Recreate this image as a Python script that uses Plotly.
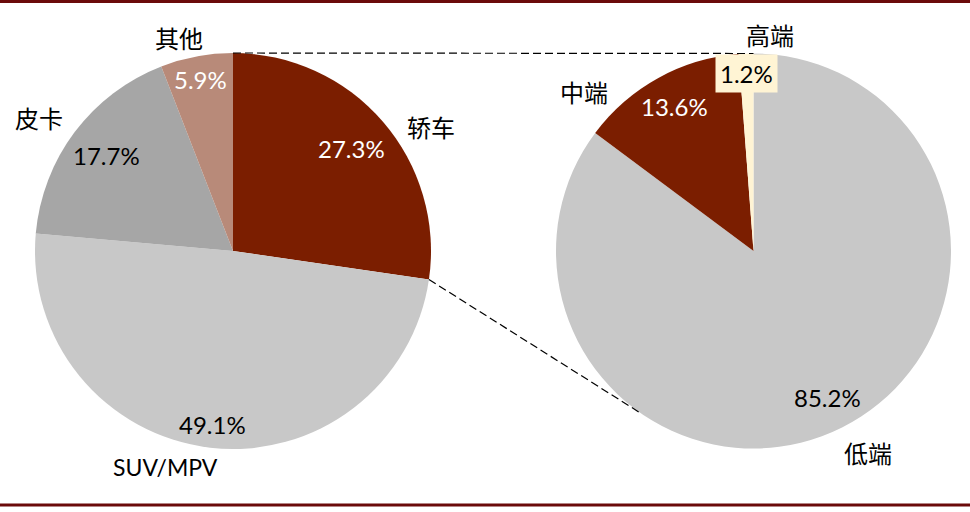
import math
import plotly.graph_objects as go

# left pie: vehicle type share
car_types = ["轿车", "SUV/MPV", "皮卡", "其他"]
car_share = [27.3, 49.1, 17.7, 5.9]

# right pie: sedan price segments
seg_names = ["低端", "中端", "高端"]
seg_share = [85.2, 13.6, 1.2]

W, H = 970, 512

# geometry (pixels)
L_CX, L_CY, L_R = 233, 251, 198
R_CX, R_CY, R_R = 753.5, 251, 197.5

DARK_RED = "#7b1e00"
LIGHT_GRAY = "#c8c8c8"
GRAY = "#a6a6a6"
ROSE = "#b88a79"
CREAM = "#fff4d4"
BORDER = "#6b0a0a"

left_colors = [DARK_RED, LIGHT_GRAY, GRAY, ROSE]
right_colors = [LIGHT_GRAY, DARK_RED, CREAM]

left_text_col = ["white", "black", "black", "white"]
right_text_col = ["black", "white", "black"]
left_rfac = [0.79, 0.88, 0.80, 0.88]
right_rfac = [0.83, 0.835, 0.90]

# name label positions (pixels)
left_name_pos = [(431, 126), (165, 467), (39, 117), (179, 37)]
right_name_pos = [(868, 452), (584, 91), (770, 34)]

NUM_FONT = "Lato, 'Open Sans', sans-serif"
CJK_FONT = "'Noto Sans CJK SC', sans-serif"


def px(x, y):
    return x / W, 1 - y / H


def dom(cx, cy, r):
    x0, y1 = px(cx - r, cy - r)
    x1, y0 = px(cx + r, cy + r)
    return dict(x=[x0, x1], y=[y0, y1])


def edge(cx, cy, r, deg, f=1.0):
    a = math.radians(deg)
    return cx + r * f * math.sin(a), cy - r * f * math.cos(a)


fig = go.Figure()

fig.add_trace(go.Pie(
    labels=car_types, values=car_share, sort=False, direction="clockwise",
    marker=dict(colors=left_colors, line=dict(width=0)),
    textinfo="none", hoverinfo="label+percent",
    domain=dom(L_CX, L_CY, L_R), showlegend=False,
))
fig.add_trace(go.Pie(
    labels=seg_names, values=seg_share, sort=False, direction="clockwise",
    marker=dict(colors=right_colors, line=dict(width=0)),
    textinfo="none", hoverinfo="label+percent",
    domain=dom(R_CX, R_CY, R_R), showlegend=False,
))

annotations = []


def pct_labels(vals, cx, cy, r, rfacs, cols, boxed=None):
    total = sum(vals)
    acc = 0
    for i, v in enumerate(vals):
        mid = (acc + v / 2) / total * 360
        acc += v
        x, y = edge(cx, cy, r, mid, rfacs[i])
        xp, yp = px(x, y)
        a = dict(x=xp, y=yp, xref="paper", yref="paper", text=f"{v:.1f}%",
                 showarrow=False, xanchor="center", yanchor="middle",
                 font=dict(family=NUM_FONT, size=24, color=cols[i]))
        if boxed is not None and i == boxed:
            a.update(bgcolor=CREAM, borderpad=4)
        annotations.append(a)


pct_labels(car_share, L_CX, L_CY, L_R, left_rfac, left_text_col)
pct_labels(seg_share, R_CX, R_CY, R_R, right_rfac, right_text_col, boxed=2)

for name, (x, y) in zip(car_types, left_name_pos):
    xp, yp = px(x, y)
    fam = NUM_FONT if name.isascii() else CJK_FONT
    annotations.append(dict(x=xp, y=yp, xref="paper", yref="paper", text=name,
                            showarrow=False, xanchor="center", yanchor="middle",
                            font=dict(family=fam, size=24 if fam == CJK_FONT else 23,
                                      color="black")))
for name, (x, y) in zip(seg_names, right_name_pos):
    xp, yp = px(x, y)
    annotations.append(dict(x=xp, y=yp, xref="paper", yref="paper", text=name,
                            showarrow=False, xanchor="center", yanchor="middle",
                            font=dict(family=CJK_FONT, size=24, color="black")))

# connector lines
sedan_end = car_share[0] / sum(car_share) * 360
lx0, ly0 = edge(L_CX, L_CY, L_R, 0)
rx0, ry0 = edge(R_CX, R_CY, R_R, 0)
lx1, ly1 = edge(L_CX, L_CY, L_R, sedan_end)
rx1, ry1 = edge(R_CX, R_CY, R_R, 214.5)

shapes = []
for (ax, ay), (bx, by) in [((lx0, ly0), (rx0, ry0)), ((lx1, ly1), (rx1, ry1))]:
    x0, y0 = px(ax, ay)
    x1, y1 = px(bx, by)
    shapes.append(dict(type="line", xref="paper", yref="paper", x0=x0, y0=y0, x1=x1, y1=y1,
                       line=dict(color="black", width=1.2, dash="8px,4px")))

# top / bottom rules
for yy in [1.5, 505]:
    _, yp = px(0, yy)
    shapes.append(dict(type="line", xref="paper", yref="paper", x0=0, x1=1, y0=yp, y1=yp,
                       line=dict(color=BORDER, width=3)))

fig.update_layout(
    width=W, height=H,
    margin=dict(l=0, r=0, t=0, b=0),
    paper_bgcolor="white", plot_bgcolor="white",
    annotations=annotations, shapes=shapes,
)

fig.write_html("out.html", config={"displayModeBar": False},
               post_script="document.body.style.margin='0';")
